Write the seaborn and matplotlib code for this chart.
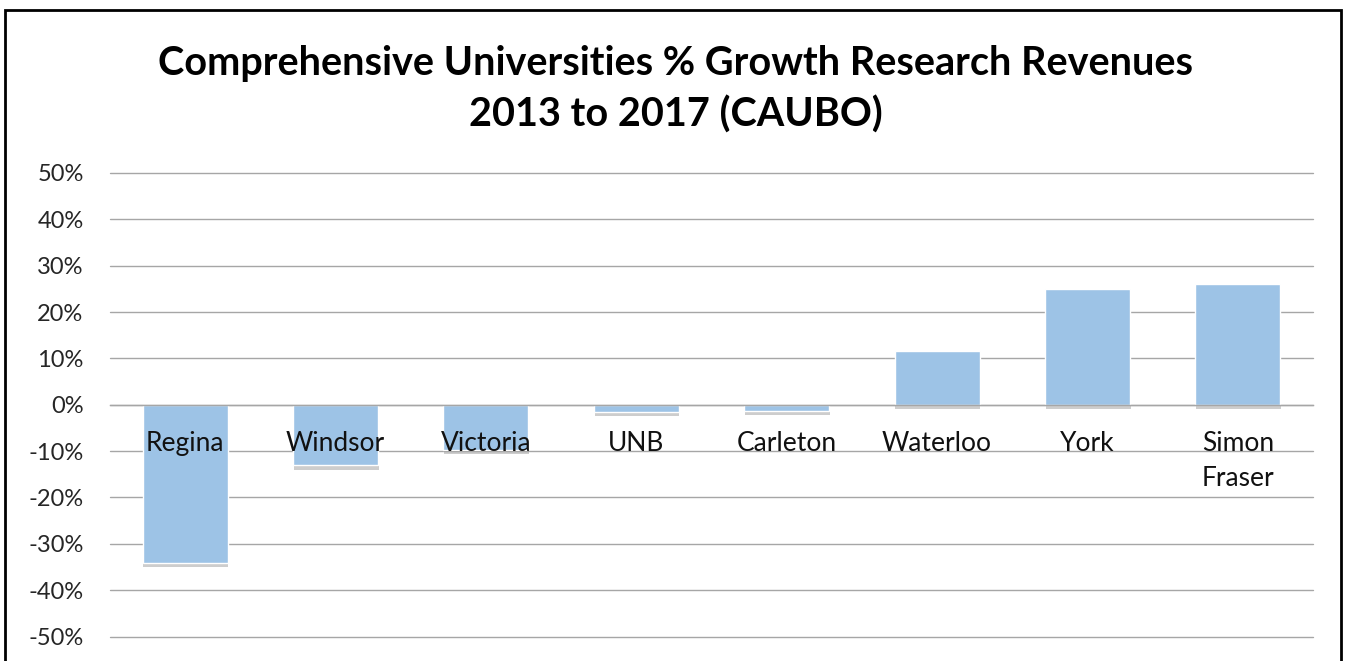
"""Comprehensive universities: % growth in research revenues, 2013 to 2017."""

import matplotlib
matplotlib.use('Agg')
import matplotlib.pyplot as plt
import matplotlib.patheffects as pe
from matplotlib.patches import Rectangle
from matplotlib.ticker import MultipleLocator, PercentFormatter
import pandas as pd
import seaborn as sns

# Data
universities = ['Regina', 'Windsor', 'Victoria', 'UNB', 'Carleton',
                'Waterloo', 'York', 'Simon\nFraser']
growth_pct = [-34.1, -13.1, -9.8, -1.6, -1.4, 11.7, 24.9, 26.1]

TITLE_LINES = ['Comprehensive Universities % Growth Research Revenues',
               '2013 to 2017 (CAUBO)']
BAR_COLOR = '#9DC3E6'
GRID_COLOR = '#a6a6a6'

sns.set_style('white')
plt.rcParams['font.family'] = ['Lato', 'DejaVu Sans']
plt.rcParams['axes.unicode_minus'] = False

W, H = 1345, 661
fig = plt.figure(figsize=(W / 100, H / 100), dpi=100)
ax = fig.add_axes([110 / W, 1 - 637 / H, (1313 - 110) / W, (637 - 172.5) / H])

df = pd.DataFrame({'university': universities, 'growth': growth_pct})
sns.barplot(data=df, x='university', y='growth', color=BAR_COLOR,
            saturation=1, width=0.565, ax=ax)

# soft drop shadow like the Excel original
for bar in ax.patches:
    bar.set_path_effects([
        pe.SimplePatchShadow(offset=(0.5, -3), shadow_rgbFace='#707070', alpha=0.35),
        pe.Normal(),
    ])

ax.set_xlim(-0.5, len(universities) - 0.5)
ax.set_ylim(-50.1, 50.1)
ax.yaxis.set_major_locator(MultipleLocator(10))
ax.yaxis.set_major_formatter(PercentFormatter(decimals=0))
ax.grid(axis='y', color=GRID_COLOR, linewidth=1)
ax.grid(axis='x', visible=False)
ax.set_axisbelow(True)
# category labels sit on top of the bars
ax.xaxis.set_zorder(5)

for side in ['top', 'left', 'right']:
    ax.spines[side].set_visible(False)
ax.spines['bottom'].set_position(('data', 0))
ax.spines['bottom'].set_color(GRID_COLOR)
ax.spines['bottom'].set_linewidth(1)

ax.tick_params(axis='x', length=0, pad=19, labelsize=19, labelcolor='#111111')
ax.tick_params(axis='y', length=0, pad=19, labelsize=17, labelcolor='#262626')
for lbl in ax.get_xticklabels():
    lbl.set_linespacing(1.5)
for gl in ax.get_ygridlines():
    gl.set_clip_on(False)
ax.set_xlabel('')
ax.set_ylabel('')

for text, y_px in zip(TITLE_LINES, [64, 115]):
    fig.text(676 / W, 1 - y_px / H, text, ha='center', va='center',
             fontsize=28.5, fontweight='bold', color='black')

# chart frame
fig.add_artist(Rectangle((5 / W, -0.05), (1341 - 5) / W, 1 - 10 / H + 0.05,
                         transform=fig.transFigure, fill=False,
                         edgecolor='black', linewidth=2, clip_on=False))

fig.savefig('out.png', dpi=100)
